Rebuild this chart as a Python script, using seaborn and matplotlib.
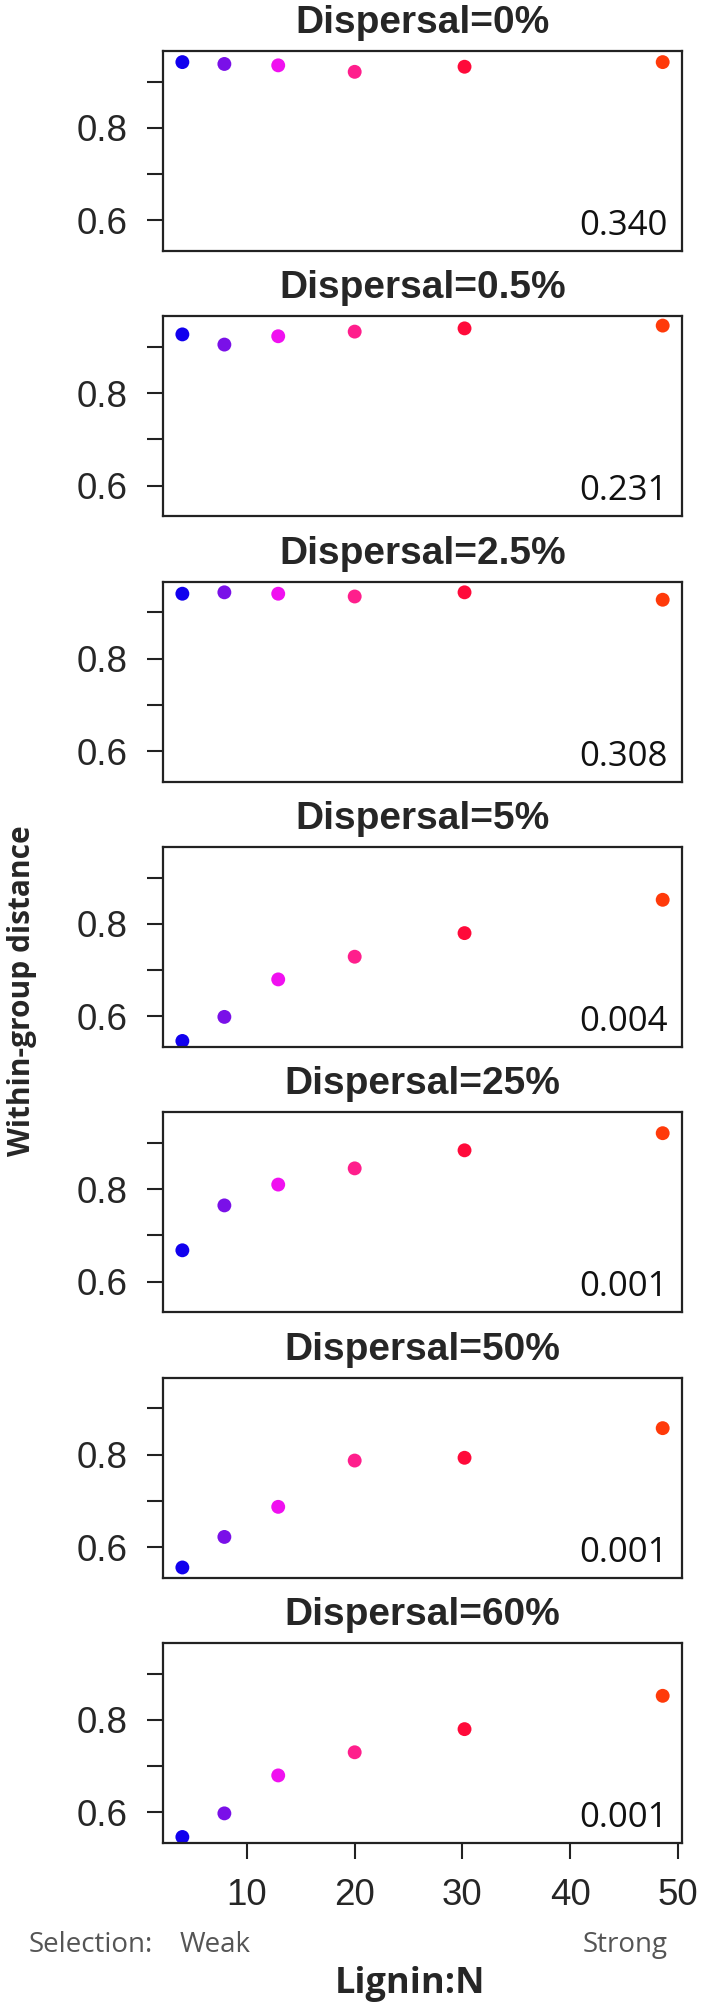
import pandas as pd
import matplotlib.pyplot as plt
import seaborn as sns

# === DATA ===
lignin_n = [4.0, 7.9, 12.9, 20.0, 30.2, 48.6]
selection_level = ["L1", "L2", "L3", "L4", "L5", "L6"]
point_colors = ["#1100EE", "#7A10E8", "#F010F0", "#FF1E8C", "#FF0A3A", "#FF3A0A"]

dispersal = ["0%", "0.5%", "2.5%", "5%", "25%", "50%", "60%"]
dist_0 = [0.942, 0.938, 0.935, 0.921, 0.932, 0.942]
dist_05 = [0.927, 0.905, 0.923, 0.933, 0.940, 0.946]
dist_25 = [0.940, 0.943, 0.940, 0.934, 0.943, 0.927]
dist_5 = [0.547, 0.599, 0.680, 0.729, 0.780, 0.852]
dist_25pc = [0.668, 0.765, 0.810, 0.845, 0.884, 0.921]
dist_50 = [0.556, 0.622, 0.687, 0.787, 0.793, 0.857]
dist_60 = [0.547, 0.598, 0.680, 0.730, 0.780, 0.852]
p_values = ["0.340", "0.231", "0.308", "0.004", "0.001", "0.001", "0.001"]

y_ticks = [0.6, 0.7, 0.8, 0.9]
y_ticklabels = ["0.6", "", "0.8", ""]
x_ticks = [10, 20, 30, 40, 50]

series = [dist_0, dist_05, dist_25, dist_5, dist_25pc, dist_50, dist_60]

# === STYLE ===
sns.set_style("white")
plt.rcParams["font.family"] = ["Liberation Sans", "DejaVu Sans"]

fig, axes = plt.subplots(7, 1, figsize=(7.01, 20.04), dpi=100, sharex=True)
fig.subplots_adjust(left=0.2325, right=0.973, top=1 - 51 / 2004, bottom=1 - 1843 / 2004, hspace=0.327)

for i, ax in enumerate(axes):
    df = pd.DataFrame({"Lignin": lignin_n, "Distance": series[i], "Level": selection_level})
    sns.scatterplot(data=df, x="Lignin", y="Distance", hue="Level", palette=point_colors,
                    s=100, linewidth=0, legend=False, ax=ax)
    ax.set_xlim(2.2, 50.4)
    ax.set_ylim(0.534, 0.966)
    ax.set_yticks(y_ticks)
    ax.set_yticklabels(y_ticklabels, fontsize=26.5)
    ax.set_xlabel("")
    ax.set_ylabel("")
    ax.set_title("Dispersal=" + dispersal[i], fontsize=28, fontweight="bold", pad=13)
    for sp in ax.spines.values():
        sp.set_linewidth(1.6)
        sp.set_color("#222222")
    ax.tick_params(axis="y", length=11.5, width=1.5, pad=14, color="#222222", left=True)
    ax.tick_params(axis="x", length=11.5, width=1.5, pad=13.5, color="#222222",
                   bottom=(i == 6), labelbottom=(i == 6), labelsize=26.5)
    ax.text(0.973, 0.08, p_values[i], transform=ax.transAxes, ha="right", va="baseline",
            fontsize=25, family=["Open Sans", "DejaVu Sans"], color="#111111")

axes[-1].set_xticks(x_ticks)

# === LABELS ===
fig.text(22 / 701, 1 - 991 / 2004, "Within-group distance", rotation=90, ha="center", va="center",
         fontsize=21.5, fontweight="bold", family=["Open Sans", "DejaVu Sans"])
fig.text(410 / 701, 1 - 1993 / 2004, "Lignin:N", ha="center", va="baseline",
         fontsize=26, fontweight="bold", family=["Open Sans", "DejaVu Sans"])
fig.text(29 / 701, 1 - 1952 / 2004, "Selection:", ha="left", va="baseline",
         fontsize=20, color="#555555", family=["Open Sans", "DejaVu Sans"])
fig.text(180 / 701, 1 - 1952 / 2004, "Weak", ha="left", va="baseline",
         fontsize=20, color="#555555", family=["Open Sans", "DejaVu Sans"])
fig.text(583 / 701, 1 - 1952 / 2004, "Strong", ha="left", va="baseline",
         fontsize=20, color="#555555", family=["Open Sans", "DejaVu Sans"])

plt.savefig("out.png", dpi=100)
